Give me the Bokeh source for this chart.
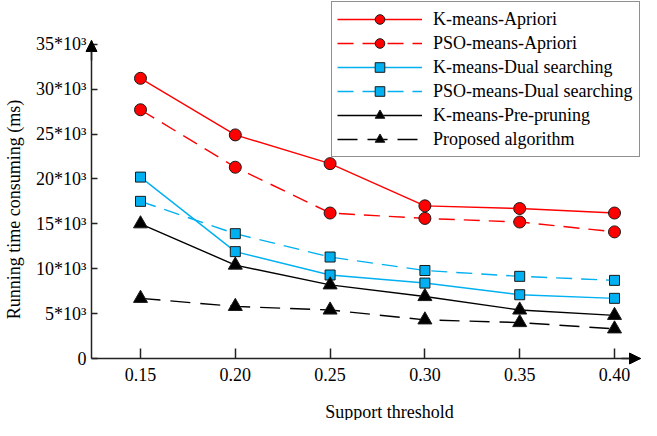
import math
from bokeh.plotting import figure
from bokeh.models import FixedTicker, Range1d, Arrow, NormalHead, Label, Legend
from bokeh.embed import file_html
from bokeh.resources import INLINE

# ---------------- data ----------------
support = [0.15, 0.20, 0.25, 0.30, 0.35, 0.40]
support_labels = ["0.15", "0.20", "0.25", "0.30", "0.35", "0.40"]

km_apriori = [31200, 24900, 21700, 17000, 16700, 16200]
pso_apriori = [27700, 21300, 16200, 15600, 15200, 14100]
km_dual = [20200, 11900, 9300, 8400, 7100, 6700]
pso_dual = [17500, 13900, 11300, 9800, 9150, 8700]
km_prune = [15000, 10400, 8200, 6900, 5400, 4800]
proposed = [6700, 5800, 5400, 4300, 4000, 3300]

y_ticks = [0, 5000, 10000, 15000, 20000, 25000, 30000, 35000]
y_tick_labels = ["0", "5*10³", "10*10³", "15*10³", "20*10³", "25*10³", "30*10³", "35*10³"]

series_names = ["K-means-Apriori", "PSO-means-Apriori", "K-means-Dual searching",
                "PSO-means-Dual searching", "K-means-Pre-pruning", "Proposed algorithm"]

FONT = "Liberation Serif"

# ---------------- geometry (pixels of the page) ----------------
W, H = 641, 420
PX_X = 1896.0            # pixels per x unit
PX_Y = 8.98 / 1000.0     # pixels per y unit
X015 = 140.0             # pixel column of x = 0.15
Y0 = 358.0               # pixel row of y = 0
AXIS_COL = 91.0          # pixel column of the y axis

def data_x(px):
    return 0.15 + (px - X015) / PX_X

def data_y(py):
    return (Y0 - py) / PX_Y

x_start, x_end = data_x(0), data_x(W)
y_start, y_end = data_y(H), data_y(0)
x_axis_at = data_x(AXIS_COL)
y_axis_top = data_y(40)
x_axis_tip = data_x(W - 1)

p = figure(width=W, height=H, output_backend="svg", toolbar_location=None,
           x_range=Range1d(x_start, x_end), y_range=Range1d(y_start, y_end),
           min_border_left=0, min_border_right=0, min_border_top=0, min_border_bottom=0)
p.outline_line_color = None
p.xgrid.visible = False
p.ygrid.visible = False
p.background_fill_color = "white"
p.border_fill_color = "white"

AX_COL = "#222222"

xa = p.xaxis[0]
xa.fixed_location = 0
xa.ticker = FixedTicker(ticks=support)
xa.major_label_overrides = {t: s for t, s in zip(support, support_labels)}
xa.bounds = (x_axis_at, x_axis_tip)
xa.major_tick_in = 10
xa.major_tick_out = 0
xa.minor_tick_in = 0
xa.minor_tick_out = 0
xa.major_label_standoff = 9
xa.major_label_text_font = FONT
xa.major_label_text_font_size = "18px"
xa.major_label_text_color = "black"
xa.axis_line_width = 1.5
xa.axis_line_color = AX_COL
xa.major_tick_line_width = 1.5
xa.major_tick_line_color = AX_COL

ya = p.yaxis[0]
ya.fixed_location = x_axis_at
ya.ticker = FixedTicker(ticks=y_ticks)
ya.major_label_overrides = {t: s for t, s in zip(y_ticks, y_tick_labels)}
ya.bounds = (0, y_axis_top)
ya.major_tick_in = 6
ya.major_tick_out = 0
ya.minor_tick_in = 0
ya.minor_tick_out = 0
ya.major_label_standoff = 5
ya.major_label_text_font = FONT
ya.major_label_text_font_size = "18px"
ya.major_label_text_color = "black"
ya.axis_line_width = 1.5
ya.axis_line_color = AX_COL
ya.major_tick_line_width = 1.5
ya.major_tick_line_color = AX_COL

# axis arrow heads
p.add_layout(Arrow(end=NormalHead(size=11, fill_color="black", line_color="black", line_width=1),
                   x_start=x_axis_at, y_start=data_y(60), x_end=x_axis_at, y_end=y_axis_top,
                   line_color=AX_COL, line_width=1.5))
p.add_layout(Arrow(end=NormalHead(size=11, fill_color="black", line_color="black", line_width=1),
                   x_start=data_x(W - 20), y_start=0, x_end=x_axis_tip, y_end=0,
                   line_color=AX_COL, line_width=1.5))

# axis titles
p.add_layout(Label(x=data_x(13), y=data_y(209),
                   text="Running time consuming (ms)", angle=math.pi / 2,
                   text_align="center", text_baseline="middle",
                   text_font=FONT, text_font_size="18px", text_color="black"))
p.add_layout(Label(x=data_x(389), y=data_y(411),
                   text="Support threshold",
                   text_align="center", text_baseline="middle",
                   text_font=FONT, text_font_size="18px", text_color="black"))

RED = "#FF0000"
BLUE = "#00B0F0"
BLK = "#000000"
OUT = "#1a1a1a"

styles = [
    (km_apriori, RED, "solid", "circle", 12, RED),
    (pso_apriori, RED, "16 9", "circle", 12, RED),
    (km_dual, BLUE, "solid", "square", 10, BLUE),
    (pso_dual, BLUE, "16 9", "square", 10, BLUE),
    (km_prune, BLK, "solid", "triangle", 14, BLK),
    (proposed, BLK, "20 10", "triangle", 14, BLK),
]

items = []
for name, (vals, col, dash, marker, size, fill) in zip(series_names, styles):
    r1 = p.line(support, vals, line_color=col, line_width=1.4, line_dash=dash)
    r2 = p.scatter(support, vals, marker=marker, size=size, fill_color=fill,
                   line_color=OUT, line_width=1)
    items.append((name, [r1, r2]))

legend = Legend(items=items, location="top_right", margin=1, padding=5, spacing=0,
                label_height=24, glyph_height=24, glyph_width=85, label_standoff=11,
                label_width=201,
                label_text_font=FONT, label_text_font_size="18px", label_text_color="black",
                border_line_color=AX_COL, border_line_width=1.5,
                background_fill_color="white", background_fill_alpha=1.0)
p.add_layout(legend, "center")

open("out.html", "w").write(file_html(p, INLINE))
